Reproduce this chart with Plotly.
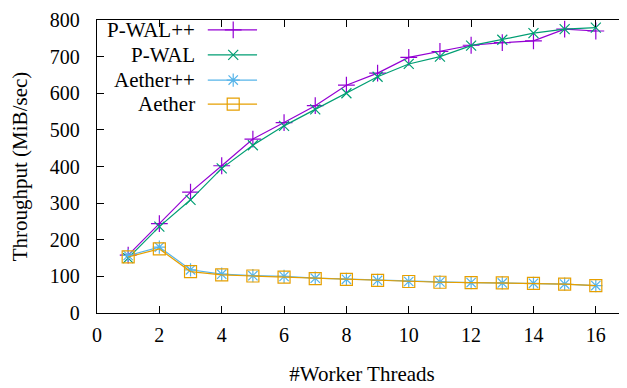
import plotly.graph_objects as go

threads = list(range(1, 17))
pwal_pp = [158, 244, 330, 402, 475, 520, 566, 622, 655, 698, 714, 731, 738, 743, 775, 770]
pwal = [150, 236, 309, 395, 458, 511, 556, 600, 645, 680, 700, 730, 746, 764, 775, 779]
aether_pp = [157, 180, 118, 106, 102, 100, 95, 92, 89, 86, 85, 83, 82, 81, 79, 75]
aether = [153, 175, 113, 104, 101, 98, 94, 92, 89, 86, 84, 83, 82, 81, 79, 75]

series_names = ["P-WAL++", "P-WAL", "Aether++", "Aether"]
series_values = [pwal_pp, pwal, aether_pp, aether]
colors = ["#9400D3", "#009E73", "#56B4E9", "#E69F00"]
symbols = ["cross-thin-open", "x-thin-open", "asterisk-open", "square-open"]
sizes = [12, 10, 11, 12]

FONT = "Liberation Serif"

fig = go.Figure()
for name, vals, c, s, sz in zip(series_names, series_values, colors, symbols, sizes):
    fig.add_trace(go.Scatter(
        x=threads, y=vals, mode="lines+markers", name=name,
        line=dict(color=c, width=1.2),
        marker=dict(symbol=s, size=sz, color=c, line=dict(color=c, width=1.2)),
        showlegend=False,
    ))

# custom gnuplot-style key (text on left, sample on right) on an overlay axis in [0,1]
key_rows = [0.966, 0.881, 0.795, 0.713]
for name, c, s, sz, ky in zip(series_names, colors, symbols, sizes, key_rows):
    fig.add_trace(go.Scatter(
        x=[0.209, 0.302], y=[ky, ky], xaxis="x2", yaxis="y2", mode="lines",
        line=dict(color=c, width=1.2), showlegend=False, hoverinfo="skip"))
    fig.add_trace(go.Scatter(
        x=[0.257], y=[ky], xaxis="x2", yaxis="y2", mode="markers",
        marker=dict(symbol=s, size=sz, color=c, line=dict(color=c, width=1.2)),
        showlegend=False, hoverinfo="skip"))
    fig.add_annotation(x=0.189, y=ky, xref="x2", yref="y2", text=name,
                       showarrow=False, xanchor="right", yanchor="middle",
                       font=dict(family=FONT, size=21, color="black"))

fig.update_layout(
    width=619, height=380,
    margin=dict(l=89, r=0, t=12, b=75, autoexpand=False),
    paper_bgcolor="white", plot_bgcolor="white",
    font=dict(family=FONT, size=20, color="black"),
    xaxis=dict(range=[0, 17], tickvals=list(range(0, 17, 2)),
               ticks="inside", ticklen=7, tickwidth=1, tickcolor="black",
               showline=True, linecolor="black", linewidth=1.3, mirror="allticks",
               showgrid=False, zeroline=False, ticklabelstandoff=4, automargin=False,
               title=dict(text="#Worker Threads", standoff=21,
                          font=dict(family=FONT, size=21))),
    yaxis=dict(range=[0, 800], tickvals=list(range(0, 801, 100)),
               ticks="inside", ticklen=7, tickwidth=1, tickcolor="black",
               showline=True, linecolor="black", linewidth=1.3, mirror="allticks",
               showgrid=False, zeroline=False, ticklabelstandoff=12, automargin=False,
               title=dict(text="Throughput (MiB/sec)", standoff=17,
                          font=dict(family=FONT, size=21))),
    xaxis2=dict(range=[0, 1], overlaying="x", visible=False, fixedrange=True),
    yaxis2=dict(range=[0, 1], overlaying="y", visible=False, fixedrange=True),
)

fig.write_html("out.html")
